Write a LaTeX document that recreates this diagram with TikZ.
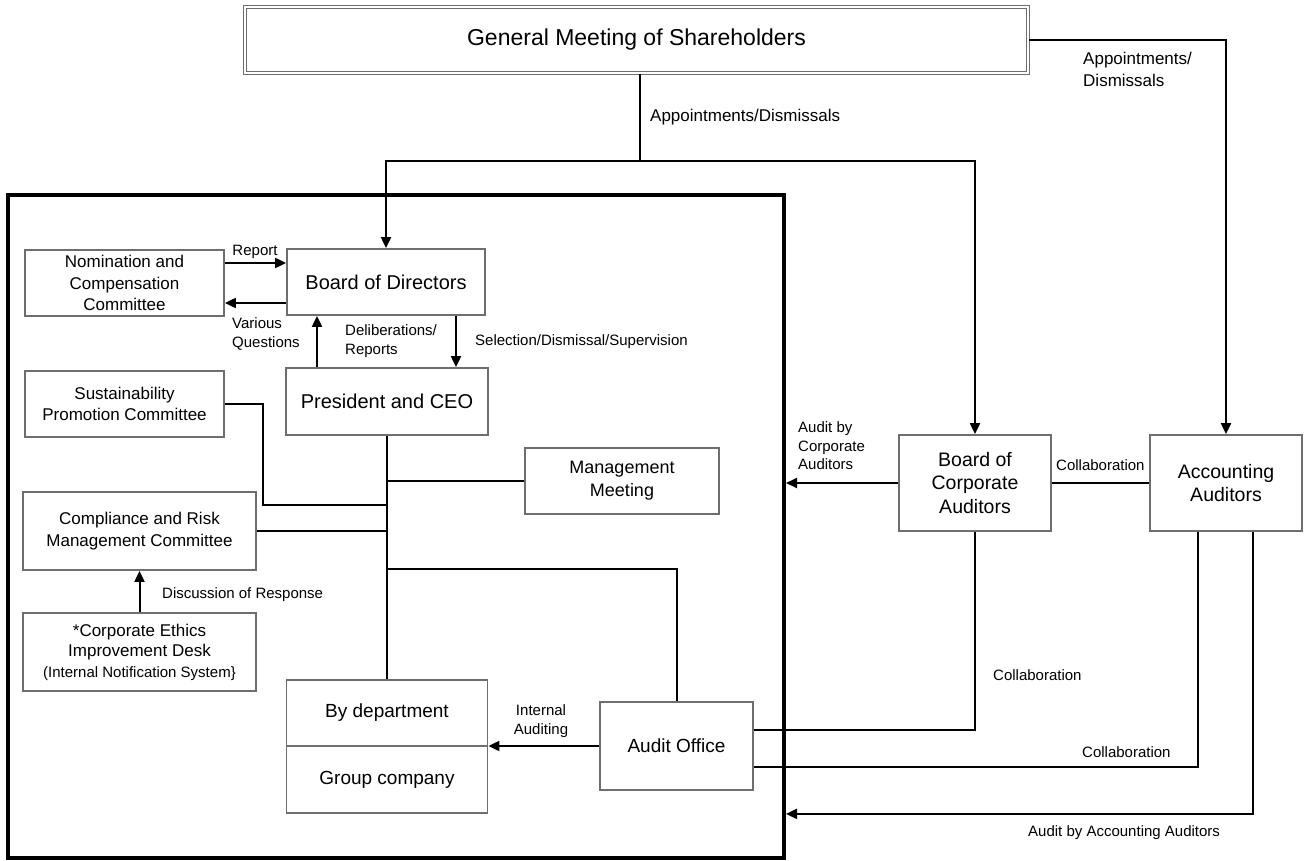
\documentclass[tikz,border=0pt]{standalone}
\usepackage{fontspec}
\setmainfont{Liberation Sans}
\usepackage{tikz}
\usetikzlibrary{arrows.meta,calc}
\definecolor{boxgray}{HTML}{6E6E6E}

\tikzset{
  box/.style={draw=boxgray,line width=1.8pt,fill=white,inner sep=0pt,align=center},
  lbl/.style={font=\fontsize{15}{18.5}\selectfont,inner sep=0pt,align=left},
  link/.style={line width=2pt},
  arr/.style={link,-{Triangle[length=11pt,width=10pt]}},
}

\begin{document}
\begin{tikzpicture}[x=1pt,y=-1pt]
  \useasboundingbox (0,0) rectangle (1306,861);
  % Company frame
  \node[box,draw=black,line width=4pt,fill=none,minimum width=776pt,minimum height=663pt] (company) at (396,526.5) {};
  % Shareholders
  \node[box,line width=1.1pt,double=white,double distance=1.5pt,minimum width=783pt,minimum height=66pt,
    font=\fontsize{23}{27}\selectfont] (gms) at (636.5,40) {General Meeting of Shareholders};
  % Boxes inside the frame
  \node[box,minimum width=198pt,minimum height=66pt,font=\fontsize{20}{24}\selectfont] (bod) at (386,282) {Board of Directors};
  \node[box,minimum width=199pt,minimum height=66pt,font=\fontsize{17}{21.5}\selectfont] (ncc) at (124.5,283) {Nomination and\\Compensation\\Committee};
  \node[box,minimum width=202pt,minimum height=67pt,font=\fontsize{20}{24}\selectfont] (pres) at (387,401.5) {President and CEO};
  \node[box,minimum width=199pt,minimum height=66pt,font=\fontsize{17}{21.5}\selectfont] (spc) at (124.5,404) {Sustainability\\Promotion Committee};
  \node[box,minimum width=194pt,minimum height=66pt,font=\fontsize{18}{23}\selectfont] (mgmt) at (622,481) {Management\\Meeting};
  \node[box,minimum width=233pt,minimum height=78pt,font=\fontsize{17}{22}\selectfont] (crm) at (139.5,531) {Compliance and Risk\\Management Committee};
  \node[box,minimum width=233pt,minimum height=78pt,font=\fontsize{17}{20.5}\selectfont] (ethics) at (139.5,652)
    {*Corporate Ethics\\Improvement Desk\\{\fontsize{15}{19}\selectfont(Internal Notification System\}}};
  \node[box,minimum width=201pt,minimum height=66pt,font=\fontsize{19}{23}\selectfont] (dept) at (387,713) {By department};
  \node[box,minimum width=201pt,minimum height=67pt,font=\fontsize{19}{23}\selectfont] (grp) at (387,779.5) {Group company};
  \node[box,minimum width=153pt,minimum height=88pt,font=\fontsize{19}{23}\selectfont] (audit) at (676.5,746) {Audit Office};
  % Auditors outside
  \node[box,minimum width=152pt,minimum height=96pt,font=\fontsize{19.5}{23.5}\selectfont] (bca) at (975,483) {Board of\\Corporate\\Auditors};
  \node[box,minimum width=152pt,minimum height=96pt,font=\fontsize{19.5}{23.5}\selectfont] (aa) at (1226,483) {Accounting\\Auditors};

  % Appointments from the meeting
  \coordinate (split) at (640,161);
  \draw[link] (split |- gms.south) -- (split);
  \draw[arr] (split) -| (bod.north);
  \draw[arr] (split) -| (bca.north);
  \draw[arr] (gms.east) -| (aa.north);
  \node[lbl,anchor=west,font=\fontsize{17}{22}\selectfont] (lblappoint) at (650,117) {Appointments/Dismissals};
  \node[lbl,anchor=west,font=\fontsize{17}{22}\selectfont] (lblappointaa) at (1083,69) {Appointments/\\Dismissals};

  % Board and committee
  \draw[arr] ([yshift=20pt]ncc.east) -- ([yshift=20pt]ncc.east -| bod.west);
  \draw[arr] ([yshift=-20pt]ncc.east -| bod.west) -- ([yshift=-20pt]ncc.east);
  \node[lbl] (lblreport) at (255,252) {Report};
  \node[lbl,anchor=west] (lblquest) at (232,334) {Various\\Questions};
  \draw[arr] ([xshift=-70pt]pres.north) -- ([xshift=-70pt]pres.north |- bod.south);
  \draw[arr] ([xshift=70pt]bod.south) -- ([xshift=70pt]bod.south |- pres.north);
  \node[lbl,anchor=west] (lbldelib) at (345,341) {Deliberations/\\Reports};
  \node[lbl,anchor=west] (lblselect) at (475,342) {Selection/Dismissal/Supervision};

  % Trunk below the president
  \draw[link] (pres.south) -- (dept.north);
  \draw[link] (mgmt.west) -- (mgmt.west -| pres.south);
  \coordinate (spcbend) at (263,505);
  \draw[link] (spc.east) -| (spcbend) -- (spcbend -| pres.south);
  \draw[link] (crm.east) -- (crm.east -| pres.south);
  \coordinate (audittap) at (387,569);
  \draw[link] (audittap) -| (audit.north);
  \draw[arr] (ethics.north) -- (crm.south);
  \node[lbl,anchor=west] (lbldiscuss) at (162,595) {Discussion of Response};
  \draw[arr] (audit.west) -- (audit.west -| dept.east);
  \node[lbl,align=center] (lblinternal) at (541,721) {Internal\\Auditing};

  % Auditors
  \draw[arr] (bca.west) -- (bca.west -| company.east);
  \node[lbl,anchor=west] (lblauditbca) at (798,446) {Audit by\\Corporate\\Auditors};
  \draw[link] (bca.east) -- (aa.west);
  \node[lbl,anchor=west] (lblcollab) at (1056,465) {Collaboration};
  \draw[link] (bca.south) |- ([yshift=16pt]audit.east);
  \node[lbl,anchor=west] (lblcollabbca) at (993,675) {Collaboration};
  \draw[link] ([xshift=-28pt]aa.south) |- ([yshift=-21pt]audit.east);
  \node[lbl,anchor=west] (lblcollabaa) at (1082,752) {Collaboration};
  \draw[arr] ([xshift=27pt]aa.south) |- (grp.south -| company.east);
  \node[lbl,anchor=west] (lblauditaa) at (1028,833) {Audit by Accounting Auditors};
\end{tikzpicture}
\end{document}
